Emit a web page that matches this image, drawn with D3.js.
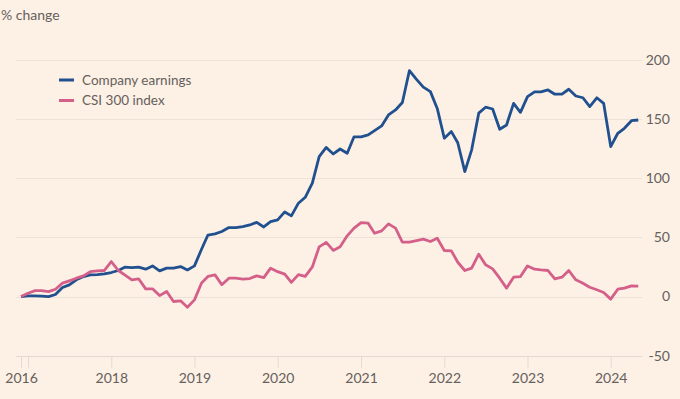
<!DOCTYPE html>
<html>
<head>
<meta charset="utf-8">
<script src="https://cdn.jsdelivr.net/npm/d3@7"></script>
<style>
  html, body { margin: 0; padding: 0; background: #FDF1E6; }
  svg { display: block; }
  text { font-family: Lato, "Noto Sans", sans-serif; fill: #66605C; }
</style>
</head>
<body>
<svg id="chart" width="680" height="399"></svg>
<script>
// ---- data (monthly, Dec 2016 – May 2024) ----
const startMonth = "2016-12-01";
const endMonth = "2024-05-01";

const companyEarnings = [
  0, 0.5, 0.5, 0.3, 0, 1.7, 7.6, 9.9, 14.1, 16.9,
  18.3, 18.6, 19.2, 20.3, 22, 24.8, 24.5, 24.8, 23.1, 25.9,
  21.7, 24, 24, 25.3, 22.5, 25.9, 40, 52, 53, 55,
  58.3, 58.3, 59.1, 60.5, 62.7, 58.8, 63.3, 64.8, 71.5, 68.2,
  78.9, 83.9, 95.8, 118.2, 126, 120.5, 124.7, 121.1, 135, 135,
  136.6, 140.2, 144.2, 153.5, 157.7, 164, 191, 183.6, 177, 173.2,
  159, 133.8, 139.4, 130, 105.6, 124, 155, 160, 158.5, 141.4,
  145, 163.3, 155.7, 169, 173, 173, 174.6, 171, 171, 175.2,
  169.5, 168, 160.5, 168, 163.3, 126.7, 138, 142.2, 148.6, 149.2
];

const csi300 = [
  0, 2.8, 5, 5, 4.2, 6.2, 11.3, 13.3, 15.5, 17.5,
  21, 21.7, 22, 29.6, 22, 18.3, 14.1, 15, 6.5, 6.5,
  0.8, 4.2, -4.2, -3.6, -9, -2.8, 11.5, 17, 18.3, 10,
  15.5, 15.5, 14.7, 15.2, 17.5, 16, 24, 21, 19, 12,
  18.5, 17, 25, 42, 45.8, 39, 42, 51.3, 57.8, 62.5,
  62, 53.5, 55.5, 61.4, 57.8, 46, 46, 47.3, 48.5, 46.5,
  49.3, 38.9, 38.6, 29, 22, 24, 35.8, 26.8, 23.4, 15.5,
  7.1, 16.4, 16.9, 25.9, 23.1, 22.5, 22, 14.9, 16.4, 22,
  14.1, 11.3, 7.9, 5.7, 3.4, -2.2, 6.2, 7.1, 9, 8.8
];

const seriesNames = ["Company earnings", "CSI 300 index"];
const seriesColors = ["#21508F", "#D4608A"];

const yTicks = [-50, 0, 50, 100, 150, 200];
const xTickDates = ["2016-12-01", "2017-01-01", "2018-01-01", "2019-01-01", "2020-01-01",
                    "2021-01-01", "2022-01-01", "2023-01-01", "2024-01-01"];
const xTickLabels = ["2016", "", "2018", "2019", "2020", "2021", "2022", "2023", "2024"];

// ---- build ----
const parse = d3.utcParse("%Y-%m-%d");
const months = d3.utcMonth.range(parse(startMonth), d3.utcMonth.offset(parse(endMonth), 1));

const svg = d3.select("#chart");
const W = 680, H = 399;

const x = d3.scaleUtc()
  .domain([parse(startMonth), parse(endMonth)])
  .range([21, 638.3]);
const y = d3.scaleLinear()
  .domain([-50, 200])
  .range([355.7, 59.9]);

const gridLeft = 16, gridRight = 642;

// gridlines
svg.append("g").selectAll("line")
  .data(yTicks)
  .join("line")
  .attr("x1", gridLeft).attr("x2", gridRight)
  .attr("y1", d => Math.round(y(d)) + 0.5).attr("y2", d => Math.round(y(d)) + 0.5)
  .attr("stroke", d => d === -50 ? "#E3D9D0" : "#EDE2D8")
  .attr("stroke-width", 1);

// y labels (right)
svg.append("g").selectAll("text")
  .data(yTicks)
  .join("text")
  .attr("x", 670)
  .attr("y", d => y(d))
  .attr("dy", "0.35em")
  .attr("text-anchor", "end")
  .attr("font-size", 14)
  .text(d => d);

// x axis ticks
const xAxis = d3.axisBottom(x)
  .tickValues(xTickDates.map(parse))
  .tickSize(11)
  .tickPadding(6)
  .tickFormat((d, i) => xTickLabels[i]);
const gx = svg.append("g")
  .attr("transform", `translate(0,${Math.round(y(-50)) + 0.5})`)
  .call(xAxis);
gx.select(".domain").remove();
gx.selectAll(".tick line").attr("stroke", "#E3D9D0");
gx.selectAll(".tick text")
  .attr("font-size", 14)
  .attr("fill", "#66605C")
  .style("font-family", "Lato, 'Noto Sans', sans-serif");

// lines
const line = d3.line()
  .x((d, i) => x(months[i]))
  .y(d => y(d));

[companyEarnings, csi300].forEach((s, k) => {
  svg.append("path")
    .datum(s)
    .attr("fill", "none")
    .attr("stroke", seriesColors[k])
    .attr("stroke-width", 2.8)
    .attr("stroke-linejoin", "round")
    .attr("stroke-linecap", "butt")
    .attr("d", line);
});

// y title
svg.append("text")
  .attr("x", 1)
  .attr("y", 20)
  .attr("font-size", 14)
  .text("% change");

// legend
const leg = svg.append("g");
seriesNames.forEach((name, k) => {
  const yy = 80 + k * 20.5;
  leg.append("line")
    .attr("x1", 59).attr("x2", 74)
    .attr("y1", yy).attr("y2", yy)
    .attr("stroke", seriesColors[k])
    .attr("stroke-width", 3);
  leg.append("text")
    .attr("x", 82)
    .attr("y", yy)
    .attr("dy", "0.35em")
    .attr("font-size", 13.5)
    .text(name);
});
</script>
</body>
</html>
